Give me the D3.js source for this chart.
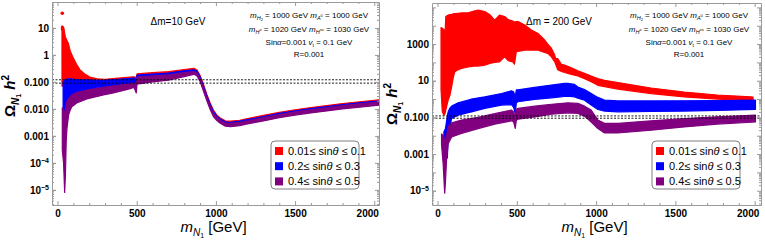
<!DOCTYPE html>
<html><head><meta charset="utf-8">
<script src="https://cdn.jsdelivr.net/npm/d3@7"></script>
<style>
body{margin:0;background:#fff}
svg{display:block}
text{font-family:"Liberation Sans",Arial,sans-serif}
</style>
</head><body>
<svg id="c" width="765" height="244"></svg>
<script>
// ---------------- DATA ----------------
const seriesNames = ["0.01\u2264 sin", "0.2\u2264 sin", "0.4\u2264 sin"];
const seriesTails = [" \u2264 0.1", " \u2264 0.3", " \u2264 0.5"];
const seriesColors = ["#ff0000", "#0000ff", "#800080"];

const xTicks = [0, 500, 1000, 1500, 2000];
const xTickLabels = ["0", "500", "1000", "1500", "2000"];

const leftYTicks = [10, 1, 0.1, 0.01, 0.001, 1e-4, 1e-5];
const leftYLabels = ["10", "1", "0.100", "0.010", "0.001", "10^-4", "10^-5"];
const rightYTicks = [1000, 10, 0.1, 0.001, 1e-5];
const rightYLabels = ["1000", "10", "0.100", "0.001", "10^-5"];

const relicBand = [0.09, 0.12];

// [mN1 (GeV), lower Omega h^2, upper Omega h^2]
const leftRed = [
 [28,0.07,12],[35,0.07,11],[42,0.08,8],[50,0.085,4.5],[58,0.09,3.6],[68,0.09,2.7],
 [80,0.09,1.4],[100,0.09,0.76],[120,0.09,0.45],[142,0.09,0.28],[170,0.09,0.2],
 [206,0.09,0.15],[250,0.09,0.13],[300,0.095,0.125],[400,0.1,0.14],[480,0.11,0.155],
 [492,0.1,0.15],[497,0.09,0.14],
 [502,0.158,0.2],[600,0.174,0.219],[700,0.191,0.24],[800,0.229,0.288],[860,0.251,0.316],
 [880,0.224,0.282],[900,0.138,0.174],[920,0.068,0.085],[944,0.026,0.033],[965,0.0126,0.0158],
 [985,0.0071,0.0089],[1005,0.0048,0.006],[1025,0.0037,0.0047],[1060,0.0029,0.0036],
 [1092,0.0028,0.0035],[1150,0.003,0.0038],[1200,0.0035,0.0044],[1300,0.0046,0.0058],
 [1400,0.0059,0.0074],[1500,0.0074,0.0093],[1600,0.0089,0.0112],[1800,0.0126,0.0158],
 [2000,0.0166,0.0209],[2040,0.0174,0.0219]
];
const leftRedDots = [[30,35],[31,10],[33,9]];
const leftBlue = [
 [35,0.008,0.1],[42,0.002,0.11],[48,0.0017,0.12],[55,0.0022,0.125],[68,0.009,0.13],
 [80,0.02,0.13],[90,0.029,0.128],[121,0.036,0.122],[185,0.045,0.118],[250,0.053,0.115],
 [311,0.06,0.117],[400,0.068,0.126],[459,0.076,0.135],[485,0.08,0.14],[492,0.07,0.13],
 [497,0.06,0.12],
 [502,0.135,0.178],[600,0.148,0.195],[700,0.162,0.214],[800,0.195,0.257],[860,0.214,0.282],
 [880,0.191,0.251],[900,0.117,0.155],[920,0.058,0.076],[944,0.0224,0.0295],[965,0.0107,0.0141],
 [985,0.006,0.0079],[1005,0.0043,0.0055],[1025,0.0033,0.0043],[1060,0.0026,0.0033],
 [1092,0.0025,0.0032],[1150,0.0027,0.0035],[1200,0.0031,0.004],[1300,0.0041,0.0052],
 [1400,0.0052,0.0068],[1500,0.0066,0.0085],[1600,0.0079,0.0102],[1800,0.0112,0.0145],
 [2000,0.0148,0.019],[2050,0.0155,0.02]
];
const leftPurple = [
 [30,0.0003,0.011],[38,0.0001,0.009],[45,0.000008,0.006],[50,0.00004,0.01],[55,0.0007,0.015],
 [60,0.002,0.02],[70,0.006,0.025],[80,0.009,0.028],[90,0.012,0.033],[121,0.0166,0.04],
 [185,0.0234,0.05],[290,0.033,0.063],[346,0.038,0.07],[417,0.048,0.08],[459,0.056,0.085],
 [480,0.063,0.09],[490,0.05,0.085],[497,0.039,0.07],
 [502,0.083,0.151],[600,0.1,0.166],[700,0.117,0.182],[800,0.158,0.219],[860,0.191,0.24],
 [880,0.17,0.214],[900,0.105,0.132],[920,0.048,0.065],[944,0.019,0.025],[965,0.0091,0.012],
 [985,0.0051,0.0068],[1005,0.0038,0.005],[1025,0.003,0.0039],[1060,0.0023,0.003],
 [1092,0.0022,0.0029],[1150,0.0024,0.0032],[1200,0.0028,0.0036],[1300,0.0036,0.0048],
 [1400,0.0047,0.0062],[1500,0.0059,0.0078],[1600,0.0071,0.0093],[1800,0.01,0.0132],
 [2000,0.0132,0.0174],[2040,0.0138,0.0182]
];

const rightRed = [
 [22,3.2,7900],[30,0.2,7200],[40,0.13,6300],[47,0.16,3200],[52,0.25,32000],[60,0.5,35000],
 [67,0.87,38000],[78,1.6,40000],[89,4.7,42000],[100,16,45000],[109,31,46000],[130,40,48000],
 [151,47,50000],[193,56,51000],[230,63,63000],[256,63,72000],[298,71,59000],[330,89,40000],
 [360,100,20000],[391,107,38000],[423,200,32000],[445,126,22000],[474,107,18000],[485,79,16000],
 [497,380,17000],[508,400,17000],[550,470,11000],[592,470,5900],[634,470,3800],[675,350,1700],
 [695,310,1000],[718,200,590],[739,107,250],[745,79,160],[758,40,160],[781,32,79],
 [801,28,71],[844,22,50],[885,18,35],[927,13,25],[969,8.9,18],[1011,5.6,13],[1053,4.8,10.5],
 [1137,3.5,7.9],[1347,2.0,4.0],[1556,1.3,2.4],[1765,1.0,1.66],[1975,0.83,1.32],[1990,0.79,1.26]
];
const rightBlue = [
 [40,0.0063,0.0158],[50,0.0016,0.025],[57,0.00056,0.063],[62,0.00063,0.126],[67,0.01,0.2],
 [78,0.032,0.32],[89,0.087,0.41],[130,0.13,0.62],[193,0.18,0.87],[214,0.2,1.0],[298,0.31,1.32],
 [403,0.47,2.0],[466,0.5,2.8],[480,0.35,2.5],[490,0.16,1.26],[497,0.63,3.2],[508,0.71,3.2],
 [612,0.95,4.3],[718,1.17,5.8],[801,1.38,7.1],[822,1.45,7.1],[864,1.32,6.3],[885,1.12,4.5],
 [927,0.87,3.3],[969,0.47,2.0],[1011,0.27,1.23],[1053,0.22,0.87],[1137,0.2,0.79],
 [1347,0.21,0.79],[1556,0.22,0.81],[1765,0.24,0.83],[2005,0.27,0.87]
];
const rightPurple = [
 [25,0.0032,0.0126],[35,0.00032,0.01],[45,0.0000074,0.0063],[50,0.000032,0.005],[57,0.0005,0.01],
 [67,0.0037,0.03],[89,0.0085,0.05],[151,0.0132,0.071],[256,0.0245,0.1],[361,0.043,0.162],
 [466,0.065,0.25],[480,0.056,0.2],[490,0.025,0.1],[497,0.071,0.28],[508,0.079,0.31],
 [612,0.107,0.41],[718,0.148,0.52],[822,0.178,0.62],[885,0.166,0.58],[927,0.117,0.41],
 [969,0.056,0.25],[1011,0.0245,0.071],[1053,0.0141,0.047],[1137,0.0141,0.047],
 [1347,0.02,0.065],[1556,0.03,0.087],[1765,0.043,0.107],[2005,0.056,0.132]
];

// ---------------- DRAW ----------------
const svg = d3.select("#c");
svg.append("rect").attr("width",765).attr("height",244).attr("fill","#fff");

function rich(sel, parts) {
  let cur = 0;
  parts.forEach(p => {
    const [str, o] = p;
    const sh = o.sh || 0;
    const t = sel.append("tspan").text(str).attr("dy", (sh - cur) + "px");
    cur = sh;
    if (o.i) t.attr("font-style", "italic");
    if (o.b) t.attr("font-weight", "bold");
    if (o.fs) t.attr("font-size", o.fs + "px");
  });
}

function drawPanel(cfg) {
  const x = d3.scaleLinear().domain(cfg.xDomain).range([cfg.x0, cfg.x1]);
  const y = d3.scaleLog().domain(cfg.yDomain).range([cfg.y1, cfg.y0]);
  const g = svg.append("g");
  const clipId = "clip" + cfg.id;
  svg.append("clipPath").attr("id", clipId).append("rect")
    .attr("x", cfg.x0).attr("y", cfg.y0).attr("width", cfg.x1 - cfg.x0).attr("height", cfg.y1 - cfg.y0);
  const plot = g.append("g").attr("clip-path", `url(#${clipId})`);
  const area = d3.area().x(d => x(d[0])).y0(d => y(d[1])).y1(d => y(d[2]));
  cfg.series.forEach((s, i) => {
    plot.append("path").datum(s).attr("d", area)
      .attr("fill", seriesColors[i]).attr("stroke", seriesColors[i])
      .attr("stroke-width", 1.2).attr("stroke-linejoin", "round");
    if (i === 0 && cfg.dots) {
      plot.selectAll(null).data(cfg.dots).join("circle")
        .attr("cx", d => x(d[0])).attr("cy", d => y(d[1])).attr("r", 1.8).attr("fill", seriesColors[0]);
    }
  });
  // relic density lines
  plot.selectAll(null).data(relicBand).join("line")
    .attr("x1", cfg.x0).attr("x2", cfg.x1)
    .attr("y1", d => y(d)).attr("y2", d => y(d))
    .attr("stroke", "#000").attr("stroke-width", 0.9).attr("stroke-dasharray", "2,1.5");

  // axes / frame
  const frameColor = "#9a9a9a";
  const xMinor = d3.range(0, 2100, 100).filter(v => v % 500 !== 0);
  const yMinor = [];
  for (let k = -7; k <= 6; k++) for (let m = 2; m <= 9; m++) {
    const v = m * Math.pow(10, k);
    if (v > cfg.yDomain[0] && v < cfg.yDomain[1]) yMinor.push(v);
  }
  const yMajorAll = [];
  for (let k = -7; k <= 6; k++) { const v = Math.pow(10, k); if (v > cfg.yDomain[0] && v < cfg.yDomain[1]) yMajorAll.push(v); }

  function styleAxis(ax) {
    ax.selectAll("path.domain").attr("stroke", frameColor).attr("stroke-width", 1);
    ax.selectAll(".tick line").attr("stroke", frameColor);
    ax.selectAll(".tick text").attr("fill", "#000").attr("font-weight", "bold").attr("font-size", "10px")
      .attr("font-family", "'Liberation Sans',Arial,sans-serif");
  }
  const bx = g.append("g").attr("transform", `translate(0,${cfg.y1})`)
    .call(d3.axisBottom(x).tickValues(xTicks).tickFormat((d, i) => xTickLabels[i]).tickSizeInner(-4).tickSizeOuter(0).tickPadding(5));
  styleAxis(bx);
  bx.selectAll(".tick text").filter(d => d === 2000).attr("dx", "-7px");
  const bxm = g.append("g").attr("transform", `translate(0,${cfg.y1})`)
    .call(d3.axisBottom(x).tickValues(xMinor).tickFormat("").tickSizeInner(-2).tickSizeOuter(0));
  styleAxis(bxm); bxm.select("path.domain").remove();
  const tx = g.append("g").attr("transform", `translate(0,${cfg.y0})`)
    .call(d3.axisTop(x).tickValues(xTicks).tickFormat("").tickSizeInner(-4).tickSizeOuter(0));
  styleAxis(tx);
  const txm = g.append("g").attr("transform", `translate(0,${cfg.y0})`)
    .call(d3.axisTop(x).tickValues(xMinor).tickFormat("").tickSizeInner(-2).tickSizeOuter(0));
  styleAxis(txm); txm.select("path.domain").remove();
  const ly = g.append("g").attr("transform", `translate(${cfg.x0},0)`)
    .call(d3.axisLeft(y).tickValues(cfg.yTicks).tickFormat((d, i) => cfg.yLabels[i]).tickSizeInner(-4).tickSizeOuter(0).tickPadding(3));
  styleAxis(ly);
  ly.selectAll(".tick text").each(function(d, i) {
    const lab = cfg.yLabels[i];
    const t = d3.select(this);
    if (lab.includes("^")) {
      const [b, e] = lab.split("^");
      t.text(b);
      t.append("tspan").attr("dy", "-0.5em").attr("font-size", "7px").text(e.replace("-", "\u2212"));
    }
  });
  const lym = g.append("g").attr("transform", `translate(${cfg.x0},0)`)
    .call(d3.axisLeft(y).tickValues(yMinor).tickFormat("").tickSizeInner(-2).tickSizeOuter(0));
  styleAxis(lym); lym.select("path.domain").remove();
  const lyM = g.append("g").attr("transform", `translate(${cfg.x0},0)`)
    .call(d3.axisLeft(y).tickValues(yMajorAll).tickFormat("").tickSizeInner(-4).tickSizeOuter(0));
  styleAxis(lyM); lyM.select("path.domain").remove();
  const ry = g.append("g").attr("transform", `translate(${cfg.x1},0)`)
    .call(d3.axisRight(y).tickValues(yMajorAll).tickFormat("").tickSizeInner(-4).tickSizeOuter(0));
  styleAxis(ry);
  const rym = g.append("g").attr("transform", `translate(${cfg.x1},0)`)
    .call(d3.axisRight(y).tickValues(yMinor).tickFormat("").tickSizeInner(-2).tickSizeOuter(0));
  styleAxis(rym); rym.select("path.domain").remove();

  const xl = g.append("text").attr("x", (cfg.x0 + cfg.x1) / 2 - 2).attr("y", 232)
    .attr("text-anchor", "middle").attr("font-size", "15px").attr("fill", "#000");
  rich(xl, [["m", {i: 1}], ["N", {i: 1, fs: 10, sh: 4}], ["1", {fs: 7, sh: 6}], [" [GeV]", {sh: 0}]]);
  const yl = g.append("text").attr("transform", `translate(${cfg.yLabelX},${cfg.yLabelY}) rotate(-90)`)
    .attr("text-anchor", "middle").attr("font-size", "15px").attr("font-weight", "bold").attr("fill", "#000");
  rich(yl, [["\u03A9", {}], ["N", {i: 1, fs: 10, sh: 4}], ["1", {fs: 7, sh: 6}], [" h", {i: 1, sh: 0}], ["2", {fs: 10, sh: -6}]]);

  g.append("text").attr("x", cfg.dmX).attr("y", 25).attr("text-anchor", "middle")
    .attr("font-size", "10px").attr("fill", "#000").text(cfg.dmText);
  const px = cfg.parX;
  const fs = 8;
  const l1 = g.append("text").attr("x", px).attr("y", 18).attr("text-anchor", "middle").attr("font-size", fs + "px");
  rich(l1, [["m", {i: 1}], ["H", {i: 1, fs: 5.5, sh: 2}], ["2", {fs: 4, sh: 3}], [" = 1000 GeV  ", {sh: 0}],
            ["m", {i: 1}], ["A", {i: 1, fs: 5.5, sh: 2}], ["0", {fs: 4, sh: -1}], [" = 1000 GeV", {sh: 0}]]);
  const l2 = g.append("text").attr("x", px).attr("y", 32).attr("text-anchor", "middle").attr("font-size", fs + "px");
  rich(l2, [["m", {i: 1}], ["H", {i: 1, fs: 5.5, sh: 2}], ["\u00B1", {fs: 4, sh: -1}], [" = 1020 GeV  ", {sh: 0}],
            ["m", {i: 1}], ["H", {i: 1, fs: 5.5, sh: 2}], ["\u00B1\u00B1", {fs: 4, sh: -1}], [" = 1030 GeV", {sh: 0}]]);
  const l3 = g.append("text").attr("x", px).attr("y", 45).attr("text-anchor", "middle").attr("font-size", fs + "px");
  rich(l3, [["Sin", {}], ["\u03B1", {i: 1}], ["=0.001  ", {}], ["v", {i: 1}], ["t", {fs: 5, sh: 2}], [" = 0.1 GeV", {sh: 0}]]);
  g.append("text").attr("x", px).attr("y", 57).attr("text-anchor", "middle").attr("font-size", fs + "px").text("R=0.001");

  const lg = g.append("g");
  lg.append("rect").attr("x", cfg.legX).attr("y", 141).attr("width", 88).attr("height", 48)
    .attr("rx", 4).attr("fill", "#fff").attr("stroke", "#808080").attr("stroke-width", 1);
  seriesNames.forEach((nm, i) => {
    const cy = 151 + i * 15.2;
    lg.append("rect").attr("x", cfg.legX + 4).attr("y", cy - 4).attr("width", 8).attr("height", 8).attr("fill", seriesColors[i]);
    const t = lg.append("text").attr("x", cfg.legX + 17).attr("y", cy + 3.8)
      .attr("font-family", "'Liberation Serif','Times New Roman',serif").attr("font-size", "11px").attr("fill", "#000");
    t.append("tspan").text(nm);
    t.append("tspan").attr("font-style", "italic").text("\u03B8");
    t.append("tspan").text(seriesTails[i]);
  });
}

drawPanel({
  id: "L", x0: 52, x1: 379, y0: 2, y1: 205,
  xDomain: [-35, 2030], yDomain: [Math.pow(10, -5.56), Math.pow(10, 1.96)],
  yTicks: leftYTicks, yLabels: leftYLabels,
  series: [leftRed, leftBlue, leftPurple], dots: leftRedDots,
  yLabelX: 15, yLabelY: 96, dmX: 178, dmText: "\u0394m=10 GeV", parX: 309, legX: 271
});
drawPanel({
  id: "R", x0: 432, x1: 761, y0: 3, y1: 205,
  xDomain: [-35, 2040], yDomain: [Math.pow(10, -5.78), Math.pow(10, 5.24)],
  yTicks: rightYTicks, yLabels: rightYLabels,
  series: [rightRed, rightBlue, rightPurple], dots: null,
  yLabelX: 397, yLabelY: 104, dmX: 559, dmText: "\u0394m = 200 GeV", parX: 689, legX: 652
});
</script>
</body></html>
